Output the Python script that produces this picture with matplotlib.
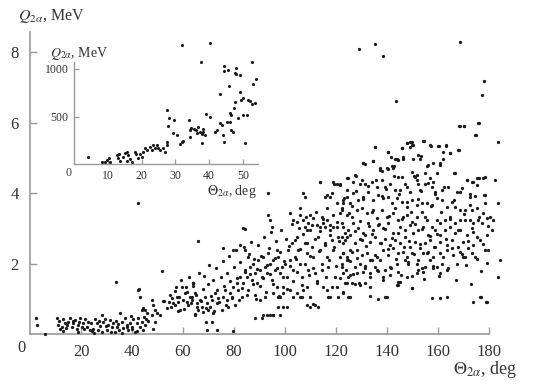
import matplotlib
matplotlib.use("Agg")
import matplotlib.pyplot as plt

plt.rcParams['font.family'] = ['Liberation Serif', 'DejaVu Serif']
plt.rcParams['mathtext.fontset'] = 'stix'

# ---------------- main scatter data (theta in deg, Q in MeV) ----------------
theta_low = [2.2, 2.6, 5.9, 10.7, 11.5, 11.1, 11.8, 12.4, 13.1, 13.7, 14.4, 15.0, 15.7, 16.3, 17.0,
             17.6, 18.3, 19.0, 19.6, 20.3, 20.9, 21.6, 22.2, 22.9, 23.5, 24.2, 24.8, 25.5, 26.1,
             26.8, 27.5, 28.1, 28.8, 29.4, 30.1, 30.7, 31.4, 32.0, 32.7, 33.3, 34.0, 34.6, 35.3,
             35.9, 36.6, 37.3, 37.9, 38.6, 39.2, 39.9, 40.5, 41.2, 41.8, 42.5, 43.1, 43.8, 44.4,
             45.1, 45.5, 46.4, 47.7, 48.4, 49.0,
             12.9, 14.1, 16.8, 18.7, 21.2, 23.9, 25.1, 27.2, 29.8, 31.9, 33.9, 36.2, 38.2, 40.1,
             42.0, 44.9, 19.3, 28.4, 35.0, 39.5]
q_low = [0.46, 0.26, 0.01, 0.46, 0.38, 0.26, 0.13, 0.19, 0.42, 0.32, 0.26, 0.35, 0.44, 0.21, 0.30,
         0.40, 0.13, 0.26, 0.44, 0.19, 0.30, 0.42, 0.21, 0.35, 0.11, 0.09, 0.13, 0.42, 0.30,
         0.11, 0.23, 0.54, 0.35, 0.42, 0.11, 0.26, 0.40, 0.19, 0.32, 0.07, 0.21, 0.28, 0.59,
         0.35, 0.16, 0.44, 0.26, 0.11, 0.32, 0.21, 0.42, 0.07, 0.30, 0.44, 0.21, 0.35, 0.11,
         0.26, 0.42, 0.38, 0.54, 0.13, 0.35,
         0.08, 0.17, 0.37, 0.05, 0.15, 0.31, 0.04, 0.37, 0.24, 0.05, 0.36, 0.03, 0.19, 0.14,
         0.09, 0.48, 0.33, 0.06, 0.12, 0.51]

theta_rise = [42.5, 43.1, 43.8, 44.4, 45.1, 45.8, 47.7, 48.4, 49.0, 49.7, 51.0, 52.0, 52.5, 53.6,
              54.6, 54.9, 55.6, 56.2, 56.9, 57.3, 57.5, 58.2, 58.8, 59.5, 60.1, 60.8, 61.2, 61.4,
              62.1, 62.7, 63.4, 64.1, 64.7, 65.4, 66.0, 33.6, 51.6, 66.0, 42.4, 84.3, 42.6,
              69.3, 73.2, 79.5, 69.0, 88.2, 91.5, 92.8, 95.4, 97.4, 108.5, 109.8, 173.9]
q_rise = [1.25, 1.06, 0.68, 0.73, 0.68, 0.59, 0.96, 0.82, 0.68, 0.59, 0.54, 0.94, 0.95, 0.73,
          0.92, 1.11, 1.01, 0.87, 0.82, 1.34, 1.06, 0.92, 0.68, 1.34, 0.96, 1.15, 1.34, 0.92,
          0.82, 1.06, 0.96, 1.44, 0.54, 0.78, 0.68, 1.47, 1.79, 2.64, 3.72, 2.99, 1.27,
          0.11, 0.11, 0.08, 0.35, 0.45, 0.54, 0.54, 0.54, 0.77, 0.82, 0.77, 0.92]

theta_mid = [63.4, 64.7, 65.4, 66.7, 67.3, 68.0, 68.6, 69.3, 69.9, 70.6, 71.2, 71.9, 72.5, 73.2,
             73.9, 75.2, 75.8, 76.5, 77.1, 77.8, 78.4, 79.1, 79.7, 80.4, 81.0, 81.7, 82.4, 83.0,
             83.7, 84.3, 85.0, 85.6, 86.3, 86.9, 87.6, 88.2, 88.9, 89.5, 90.2, 90.8, 91.5, 92.2,
             92.8, 93.5, 94.1, 94.8, 95.4, 96.1, 96.7, 97.4, 98.0, 98.7, 99.3, 100.0, 100.7, 101.3,
             102.0, 102.6, 103.3, 103.9, 104.6, 105.2, 105.9, 106.5, 107.2, 107.8, 108.5, 109.2,
             109.8, 110.5, 111.1, 111.8, 112.4, 113.1, 113.7, 114.4, 115.0, 115.7, 116.3, 117.0,
             117.6, 118.3, 119.0, 119.6, 120.3, 120.9, 121.6, 122.2, 122.9, 123.5, 124.2, 124.8,
             125.5,
             83.7, 93.5, 94.1, 94.8, 102.0, 103.3, 104.6, 105.9, 107.2, 107.8, 108.5, 109.2, 109.8,
             111.1, 112.4, 113.7, 114.4, 115.7, 116.3, 117.6, 119.0, 120.3, 121.6, 122.2, 122.9,
             124.2, 120.3, 119.0, 115.7, 116.3, 117.6, 118.3, 113.7, 93.5, 107.2, 107.8, 105.9,
             75.8, 71.2, 90.8, 94.1, 95.4, 98.0, 99.3, 100.9, 111.8, 113.1, 105.9, 104.6, 117.6,
             64.1, 79.7, 82.4, 84.3, 85.6, 102.0, 103.3, 108.5, 109.8, 115.0, 116.3, 120.3, 122.9,
             124.2, 88.2, 90.2, 92.2, 95.4, 96.7, 98.0, 97.4, 99.3, 106.5, 111.1, 117.0, 120.9,
             125.5, 139.2, 143.8, 144.4, 149.7, 153.6, 160.8, 163.4, 157.5, 176.7, 178.8, 183.4]
q_mid = [1.06, 1.15, 0.87, 0.96, 0.78, 0.63, 1.06, 0.87, 0.68, 0.78, 0.96, 0.59, 1.15, 0.87,
         1.01, 0.68, 1.06, 1.25, 0.96, 0.78, 1.15, 1.06, 1.34, 0.82, 1.44, 1.25, 1.63, 1.06,
         1.44, 1.82, 1.63, 1.25, 1.91, 1.53, 2.00, 1.72, 1.44, 2.10, 1.82, 1.63, 2.19, 1.91,
         1.72, 2.29, 2.00, 1.53, 2.10, 1.82, 2.38, 2.19, 1.72, 1.91, 1.34, 2.00, 1.63, 2.38,
         2.10, 2.57, 1.82, 2.19, 2.76, 2.38, 2.00, 1.63, 1.25, 2.57, 2.29, 1.82,
         2.95, 2.48, 2.19, 1.72, 1.44, 2.76, 2.38, 2.00, 3.14, 2.57, 2.19, 1.91,
         2.95, 2.67, 2.38, 1.63, 3.04, 2.76, 2.19, 1.91, 2.57, 2.86, 2.10, 1.63,
         2.38,
         3.00, 3.38, 3.23, 3.04, 3.42, 3.23, 3.19, 3.38, 3.23, 3.04, 2.95, 3.14, 3.38,
         3.28, 3.09, 3.04, 3.33, 3.04, 3.23, 3.09, 3.04, 3.19, 3.42, 3.57, 3.71,
         4.09, 4.27, 4.32, 3.90, 3.94, 3.90, 3.99, 4.32, 3.99, 3.99, 3.90, 3.57,
         2.43, 0.35, 0.44, 0.54, 0.54, 0.54, 0.78, 0.78, 0.82, 0.78, 1.06, 1.15, 1.06,
         1.44, 2.38, 2.52, 2.38, 2.19, 1.25, 1.06, 1.34, 1.06, 1.34, 1.25, 1.34, 1.15,
         1.44, 1.11, 0.96, 1.06, 1.15, 1.34, 1.06, 1.06, 1.15, 1.06, 0.85, 1.06, 1.06,
         1.06, 1.06, 1.39, 1.48, 1.30, 1.86, 1.01, 1.06, 1.01, 1.06, 0.92, 1.63]

theta_high = [168.6, 170.2, 175.8, 174.5, 183.7, 135.3, 145.8, 147.7, 149.0, 149.7, 154.2, 156.9,
              160.1, 163.1, 164.7, 168.0, 140.5, 143.1, 144.4, 146.4, 150.3, 152.3, 152.9, 130.7,
              134.6, 137.3, 139.9, 142.5, 144.4, 145.8, 151.0, 151.6, 152.3, 154.9, 156.2, 156.9,
              158.2, 160.8, 162.1, 166.7, 171.2, 173.2, 175.2, 177.8, 127.5, 126.8, 124.8, 121.6,
              129.4, 131.4, 134.0, 135.9, 137.9, 139.2, 141.2, 143.1, 145.1, 147.7, 149.0, 152.9,
              154.9, 157.5, 158.8, 161.4, 164.1, 167.3, 169.3, 172.5, 175.2, 178.4, 183.7,
              122.9, 124.2, 125.5, 126.8, 128.8, 130.7, 132.7, 134.6, 136.6, 138.6, 140.5, 141.8,
              143.8, 145.8, 147.7, 149.7, 151.6, 153.6, 155.6, 157.5, 159.5, 161.4, 163.4, 165.4,
              166.7, 168.6, 170.6, 173.2, 175.2, 177.8, 180.4]
q_high = [5.91, 5.91, 5.98, 5.65, 5.46, 5.31, 5.27, 5.41, 5.46, 5.36, 5.48, 5.36,
          5.33, 5.36, 5.13, 5.22, 5.17, 4.98, 4.94, 5.03, 4.98, 5.08, 4.96, 4.84,
          4.92, 4.65, 4.70, 4.70, 4.46, 4.46, 4.46, 4.37, 4.27, 4.56, 4.79, 4.42,
          4.32, 4.79, 4.96, 4.56, 4.37, 4.32, 4.42, 4.42, 4.51, 4.32, 4.42, 4.23,
          4.27, 4.27, 4.32, 4.18, 4.37, 4.18, 4.27, 4.09, 4.09, 4.18, 4.04, 4.09,
          4.27, 4.18, 4.04, 4.09, 4.18, 4.04, 4.13, 3.90, 4.23, 3.94, 3.71,
          3.80, 3.90, 3.71, 3.99, 3.80, 3.90, 4.04, 3.80, 3.94, 3.85, 3.90, 3.71,
          3.85, 3.75, 3.61, 3.80, 3.66, 3.71, 3.71, 3.66, 3.85, 3.80, 3.61, 3.75,
          3.61, 3.52, 3.52, 3.52, 3.57, 3.42, 3.33]

theta_band = [122.2, 124.2, 126.1, 128.1, 130.1, 132.0, 134.0, 135.9, 137.9, 139.9, 142.5, 144.4,
              146.4, 147.7, 149.7, 151.6, 153.6, 155.6, 157.5, 159.5, 160.8, 162.7, 164.7, 166.7,
              168.6, 170.6, 172.5, 173.9, 175.8, 177.1, 179.1, 181.7,
              122.9, 124.8, 126.8, 128.8, 130.7, 132.7, 134.6, 136.6, 138.6, 140.5, 142.5, 145.1,
              147.1, 149.0, 150.3, 152.3, 154.2, 156.2, 158.8, 160.8, 162.7, 164.7, 166.7, 168.6,
              171.2, 173.2, 175.2, 179.1, 181.0,
              122.2, 123.5, 125.5, 127.5, 129.4, 131.4, 133.3, 135.3, 137.3, 139.2, 141.2, 143.1,
              145.1, 147.1, 149.0, 151.0, 152.9, 154.9, 156.9, 158.8, 160.8, 163.4, 165.4, 168.0,
              169.9, 171.9, 173.9, 176.5, 179.7,
              122.9, 124.2, 126.1, 128.1, 130.1, 132.0, 134.0, 135.9, 138.6, 140.5, 142.5, 144.4,
              146.4, 147.7, 149.7, 152.3, 154.2, 156.2, 158.2, 160.8, 163.4, 166.0, 168.6, 170.6,
              173.2, 174.5, 178.4, 184.2,
              122.2, 124.8, 127.5, 129.4, 131.4, 133.3, 135.3, 137.3, 139.2, 141.2, 143.8, 147.1,
              148.4, 151.6, 154.9, 156.9, 159.5, 161.4, 163.4, 167.3, 169.9,
              122.9, 125.5, 128.1, 130.7, 133.3, 135.9, 138.6, 141.2, 144.4, 147.7, 149.7, 152.3,
              154.2, 158.2, 160.8,
              123.5, 126.1, 127.5, 129.4, 131.4, 133.3, 145.1, 144.4, 149.7, 122.9, 124.8, 133.3,
              136.6, 139.9, 176.5, 179.1]
q_band = [3.52, 3.38, 3.33, 3.52, 3.57, 3.42, 3.47, 3.28, 3.52, 3.33, 3.42, 3.23,
          3.33, 3.38, 3.19, 3.33, 3.47, 3.23, 3.04, 3.23, 3.14, 3.23, 3.33, 3.14,
          3.23, 3.23, 3.23, 3.14, 3.23, 3.14, 3.28, 3.23,
          3.04, 2.95, 3.14, 3.00, 2.86, 3.14, 2.95, 3.09, 3.00, 3.14, 2.86, 3.04,
          2.95, 3.09, 2.86, 2.95, 3.04, 2.81, 2.95, 2.81, 2.95, 3.04, 2.86, 2.95,
          2.81, 3.00, 2.76, 2.81, 2.95,
          2.76, 2.67, 2.81, 2.57, 2.71, 2.81, 2.62, 2.76, 2.57, 2.71, 2.52, 2.67,
          2.57, 2.76, 2.48, 2.62, 2.43, 2.57, 2.67, 2.48, 2.62, 2.52, 2.67, 2.48,
          2.62, 2.43, 2.52, 2.67, 2.38,
          2.29, 2.19, 2.34, 2.15, 2.24, 2.29, 2.10, 2.19, 2.38, 2.24, 2.43, 2.29,
          2.34, 2.19, 2.29, 2.10, 2.29, 2.34, 2.19, 2.29, 2.38, 2.24, 2.34, 2.19,
          2.29, 2.19, 2.38, 2.10,
          2.00, 2.10, 1.91, 2.00, 1.86, 2.10, 1.91, 2.10, 1.82, 1.91, 2.00, 2.10,
          2.05, 2.00, 1.91, 2.10, 1.91, 2.00, 1.82, 2.00, 2.19,
          1.72, 1.67, 1.72, 1.77, 1.72, 1.82, 1.63, 1.67, 1.77, 1.63, 1.65, 1.82,
          1.77, 1.86, 1.72,
          1.44, 1.44, 1.42, 1.39, 1.44, 1.34, 1.48, 1.39, 1.30, 1.20, 1.06, 1.08,
          0.98, 1.04, 1.06, 0.92]

theta_top = [135.4, 130.7, 131.2, 134.7, 140.5, 141.4, 145.8, 147.7, 149.7, 150.1, 149.0, 154.5,
             157.1, 160.5, 163.1, 162.1, 164.7, 168.1, 113.7, 119.2, 121.6, 124.4, 127.8, 130.1,
             137.9, 140.5, 142.8, 143.8, 146.2, 150.7, 151.6, 153.2, 155.6, 157.9, 159.5, 160.8,
             166.3, 171.2, 173.9, 176.2, 178.4, 182.5, 178.1, 172.5, 137.3, 141.8,
             129.2, 135.2, 138.5, 143.6, 168.5, 177.9, 177.3, 168.4, 170.2, 176.0, 174.8]
q_top = [5.31, 4.84, 4.82, 4.92, 5.17, 5.01, 5.27, 5.41, 5.46, 5.36, 5.31, 5.48,
         5.34, 5.34, 5.34, 5.17, 5.13, 5.22, 4.32, 4.27, 4.25, 4.43, 4.48, 4.37,
         4.63, 4.67, 4.78, 4.98, 4.98, 4.48, 4.51, 5.05, 4.77, 4.84, 4.56, 4.84,
         4.56, 4.37, 4.32, 4.43, 4.46, 4.37, 3.94, 3.96, 4.70, 4.77,
         8.10, 8.24, 7.89, 6.62, 8.29, 7.18, 6.77, 5.90, 5.90, 5.98, 5.65]

# extra points filling the dense cloud (read region by region)
theta_fill = [55.3, 56.8, 57.9, 58.6, 59.2, 60.4, 61.7, 62.3, 63.1, 63.8, 64.6, 65.2, 66.3, 66.9,
              67.7, 68.4, 69.1, 69.8, 70.3, 71.0, 71.6, 72.2, 72.9, 73.5, 74.2, 74.8, 75.5, 76.1,
              76.7, 77.4, 78.0, 78.6, 79.3, 79.9, 80.6, 81.2, 81.8, 82.5, 83.1, 83.8, 84.4, 85.1,
              85.7, 86.2, 86.8, 87.3, 87.9, 88.5, 89.0, 89.6, 90.1,
              90.7, 91.3, 91.8, 92.4, 92.9, 93.6, 94.2, 94.7, 95.3, 95.9, 96.4, 97.0, 97.5, 98.1,
              98.6, 99.2, 99.8, 100.3, 100.9, 101.4, 102.1, 102.7, 103.2, 103.8, 104.3, 104.9,
              105.5, 106.0, 106.6, 107.1, 107.7, 108.2, 108.8, 109.4, 109.9, 110.5, 111.0, 111.6,
              112.1, 112.7, 113.3, 113.8, 114.4, 114.9, 115.5, 116.1, 116.6, 117.2, 117.7, 118.3,
              118.9, 119.4, 120.0, 120.5, 121.1, 121.7, 122.2, 122.8, 123.3, 123.9, 124.5, 125.0,
              125.6, 126.2, 126.7, 127.3, 127.9, 128.4, 129.0, 129.6, 130.1, 130.7, 131.2, 131.8,
              132.4, 132.9, 133.5, 134.1, 134.6, 135.2, 135.8, 136.3, 136.9, 137.5, 138.0, 138.6,
              139.2, 139.7, 140.3, 140.9, 141.4, 142.0, 142.6, 143.1, 143.7, 144.3, 144.8, 145.4,
              146.0, 146.5, 147.1, 147.7, 148.2, 148.8, 149.4, 149.9, 150.5, 151.1, 151.6, 152.2,
              152.8, 153.3, 153.9, 154.5, 155.0, 155.6, 156.2, 156.7, 157.3, 157.9, 158.4, 159.0,
              159.6, 160.3, 161.1, 161.8, 162.5, 163.3, 164.0, 164.8, 165.5, 166.3, 167.0, 167.8,
              168.5, 169.3, 170.1, 170.8, 171.6, 172.4, 173.1, 173.9, 174.7, 175.4, 176.2, 177.0,
              177.8, 178.5, 179.2, 179.8]
q_fill = [0.78, 1.21, 0.64, 1.05, 1.52, 0.71, 1.18, 1.61, 0.88, 1.37, 0.57, 1.12, 1.74, 0.93,
          1.28, 1.66, 0.74, 1.41, 1.97, 1.08, 1.53, 0.66, 1.86, 1.24, 0.92, 1.63, 2.08, 1.35,
          0.81, 1.72, 2.21, 1.49, 1.02, 1.91, 2.37, 1.58, 0.97, 2.04, 1.31, 2.46, 1.77, 1.12,
          2.28, 1.69, 2.61, 1.43, 2.12, 0.98, 1.84, 2.53, 1.36,
          2.21, 1.59, 2.76, 1.18, 1.97, 2.44, 1.71, 2.89, 1.42, 2.16, 2.63, 1.87, 1.09, 2.34,
          2.95, 1.62, 2.08, 2.71, 1.28, 2.49, 1.93, 3.12, 1.51, 2.67, 2.14, 1.76,
          3.02, 2.41, 1.39, 2.83, 1.98, 3.31, 2.57, 1.67, 2.22, 3.09, 1.88, 2.71,
          3.46, 1.49, 2.36, 2.93, 1.81, 3.27, 2.52, 1.63, 3.58, 2.11, 2.81, 1.32,
          3.39, 2.46, 1.94, 3.71, 2.63, 1.58, 3.15, 2.29, 3.86, 1.83, 2.74, 3.44,
          2.06, 3.63, 1.71, 2.92, 4.07, 2.38, 1.46, 3.21, 2.67, 3.84, 1.92, 2.51,
          4.21, 3.06, 1.63, 2.84, 3.52, 2.23, 4.38, 1.78, 3.13, 2.59, 3.91, 1.52,
          2.97, 4.12, 2.41, 3.36, 1.86, 2.73, 4.49, 3.58, 2.12, 2.88, 3.97, 1.67,
          3.27, 2.46, 4.26, 3.74, 1.98, 2.65, 3.45, 4.61, 2.27, 3.11, 1.74, 3.82,
          2.54, 4.05, 2.99, 1.57, 3.33, 2.31, 4.28, 2.78, 3.64, 1.93, 2.48, 3.98,
          2.83, 1.64, 3.47, 2.19, 4.17, 2.71, 1.87, 3.26, 2.43, 3.79, 1.53, 2.96,
          4.03, 2.27, 3.41, 1.96, 2.64, 3.67, 1.41, 2.89, 3.92, 2.13, 3.31, 1.78,
          2.56, 3.73, 2.02, 3.07]

theta_all = theta_low + theta_rise + theta_mid + theta_high + theta_band + theta_top + theta_fill
q_all = q_low + q_rise + q_mid + q_high + q_band + q_top + q_fill

# ---------------- inset data (theta in deg, Q in MeV) ----------------
inset_theta = [4.2, 8.4, 9.2, 9.7, 10.5, 10.7, 12.6, 13.4, 13.1, 13.6, 14.6, 15.1, 15.8, 16.1,
               15.6, 16.6, 17.1, 18.0, 18.5, 19.0, 19.5, 20.0, 20.5, 21.0, 21.5, 22.5, 23.0,
               23.5, 24.0, 24.5, 25.0, 25.4, 26.4, 26.9, 27.4, 27.6, 27.4, 28.1, 27.9, 29.6,
               29.4, 30.6, 31.4, 31.9, 32.3, 34.1, 34.3, 34.5, 34.8, 35.5, 36.1, 36.5, 36.8,
               37.3, 37.8, 38.1, 38.3, 38.8, 37.8, 39.1, 40.2, 41.9, 42.5, 43.2, 43.7, 44.2,
               44.4, 43.2, 44.4, 44.5, 45.2, 45.7, 45.9, 46.2, 46.6, 46.2, 46.6, 47.1, 47.3,
               47.6, 47.6, 47.9, 48.1, 48.6, 49.1, 49.3, 49.6, 50.1, 50.1, 50.6, 51.1, 51.6,
               52.1, 52.6, 52.6, 53.1, 53.6, 54.0, 32.0, 40.3, 37.5]
inset_q = [73, 21, 28, 45, 63, 28, 98, 108, 63, 35, 80, 115, 133, 98,
           35, 56, 28, 133, 105, 63, 108, 80, 133, 168, 150, 185, 150,
           203, 168, 203, 175, 150, 168, 133, 203, 238, 570, 482, 405, 465,
           325, 307, 210, 231, 245, 465, 360, 290, 377, 370, 360, 325, 395,
           342, 314, 370, 342, 307, 220, 524, 500, 342, 360, 430, 412, 307,
           238, 734, 978, 1034, 447, 989, 825, 535, 517, 447, 360, 342, 587,
           954, 657, 1013, 943, 482, 762, 936, 674, 692, 517, 220, 517, 674,
           664, 1069, 629, 838, 639, 894, 1253, 1267, 1069]

main_xticks = [20, 40, 60, 80, 100, 120, 140, 160, 180]
main_yticks = [2, 4, 6, 8]
inset_xticks = [10, 20, 30, 40, 50]
inset_yticks = [500, 1000]

TXT = '#333333'
SPINE = '#9a9a9a'
DOT = '#1a1a1a'

fig = plt.figure(figsize=(5.36, 3.88), dpi=100)
ax = fig.add_axes([30/536, 1 - 334/388, (489 - 30)/536, (334 - 32)/388])
ax.scatter(theta_all, q_all, s=5.5, c=DOT, linewidths=0, clip_on=False, zorder=3)
ax.set_xlim(0, 180)
ax.set_ylim(0, 8.57)
for s in ['top', 'right']:
    ax.spines[s].set_visible(False)
for s in ['left', 'bottom']:
    ax.spines[s].set_color(SPINE)
    ax.spines[s].set_linewidth(1.2)
ax.set_xticks(main_xticks)
ax.set_xticklabels([str(v) for v in main_xticks])
ax.set_yticks(main_yticks)
ax.set_yticklabels([str(v) for v in main_yticks])
ax.tick_params(direction='in', length=5, width=1, color=SPINE, labelsize=12,
               labelcolor=TXT, pad=7)
ax.tick_params(axis='y', pad=8)
ax.annotate('0', xy=(0, 0), xycoords='data', xytext=(-9, -14), textcoords='offset pixels',
            ha='center', va='center', fontsize=12, color=TXT)
fig.text(18/536, 1 - 16/388, r'$Q_{2\alpha}$, MeV', fontsize=11.5, color=TXT,
         ha='left', va='center')
fig.text(517/536, 1 - 369/388, r'$\Theta_{2\alpha}$, deg', fontsize=13, color=TXT,
         ha='right', va='center')

# inset
ins = fig.add_axes([74/536, 1 - 164.3/388, (258 - 74)/536, (164.3 - 61.7)/388])
ins.scatter(inset_theta, inset_q, s=5, c=DOT, linewidths=0, clip_on=False, zorder=3)
ins.set_xlim(0, 54.5)
ins.set_ylim(0, 1075)
ins.patch.set_alpha(0)
for s in ['top', 'right']:
    ins.spines[s].set_visible(False)
for s in ['left', 'bottom']:
    ins.spines[s].set_color(SPINE)
    ins.spines[s].set_linewidth(1.0)
ins.set_xticks(inset_xticks)
ins.set_xticklabels([str(v) for v in inset_xticks])
ins.set_yticks(inset_yticks)
ins.set_yticklabels([str(v) for v in inset_yticks])
ins.tick_params(direction='in', length=3.5, width=0.9, color=SPINE, labelsize=8.5,
                labelcolor=TXT, pad=4)
ins.annotate('0', xy=(0, 0), xycoords='data', xytext=(-6, -9), textcoords='offset pixels',
             ha='center', va='center', fontsize=8.5, color=TXT)
fig.text(50/536, 1 - 53/388, r'$Q_{2\alpha}$, MeV', fontsize=10, color=TXT,
         ha='left', va='center')
fig.text(257/536, 1 - 191/388, r'$\Theta_{2\alpha}$, deg', fontsize=10, color=TXT,
         ha='right', va='center')

fig.savefig('out.png', dpi=100)
